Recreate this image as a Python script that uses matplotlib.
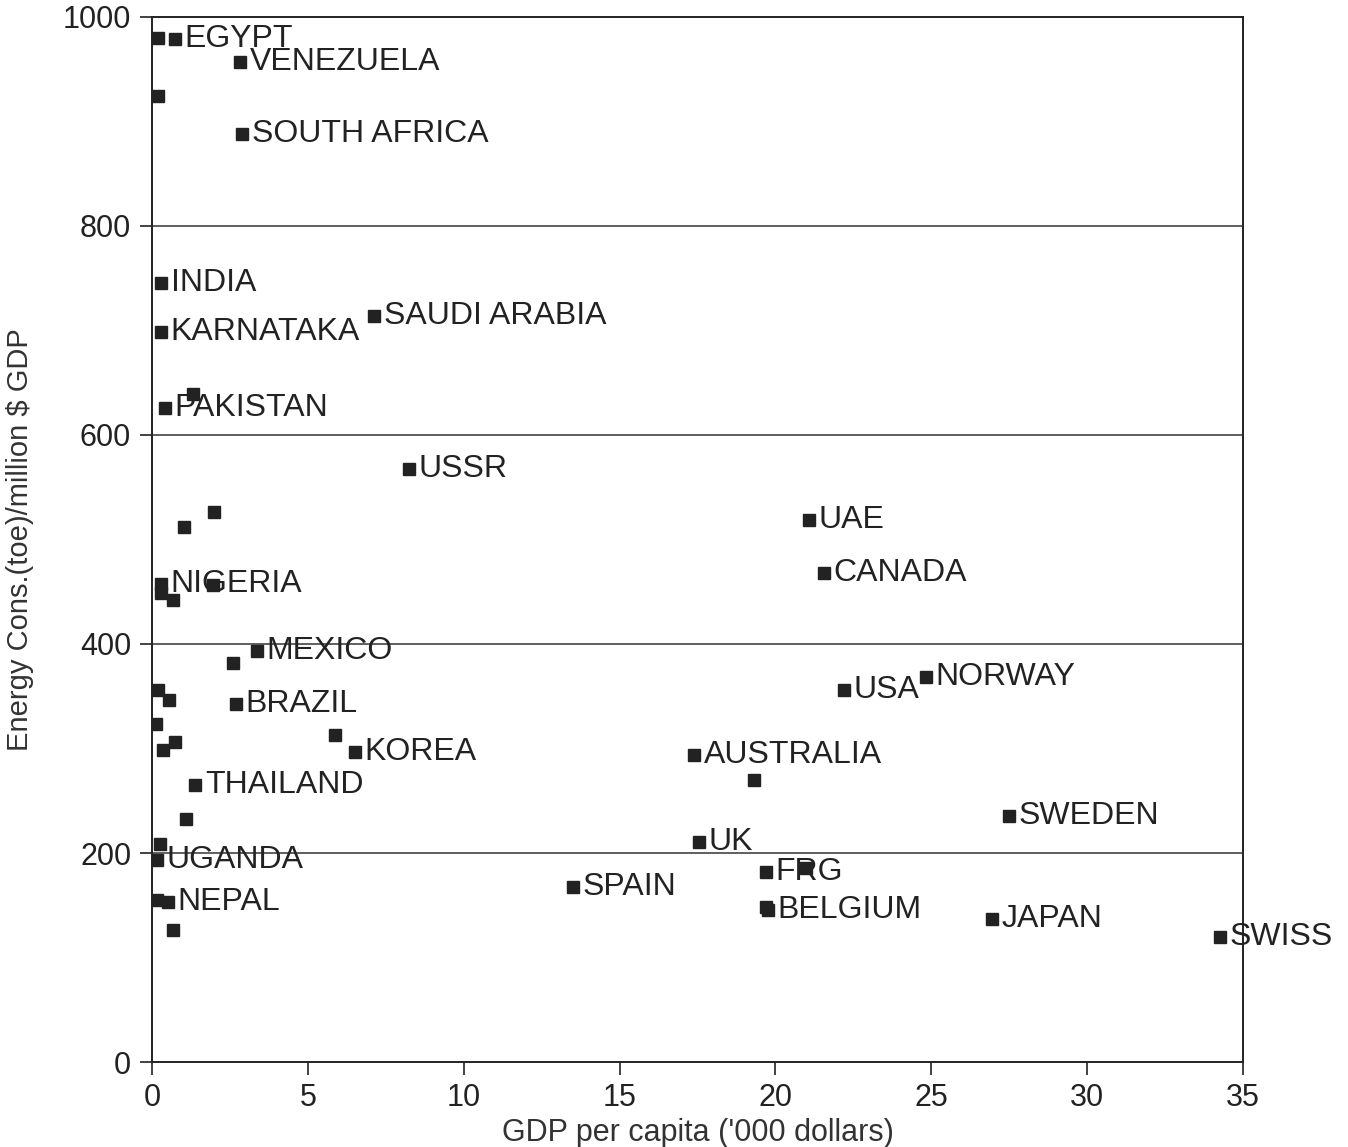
import matplotlib.pyplot as plt

# pontos rotulados (pais, PIB per capita, consumo de energia)
paises = ['EGYPT', 'VENEZUELA', 'SOUTH AFRICA', 'INDIA', 'KARNATAKA', 'SAUDI ARABIA',
          'PAKISTAN', 'USSR', 'UAE', 'CANADA', 'NIGERIA', 'MEXICO', 'BRAZIL', 'KOREA',
          'THAILAND', 'AUSTRALIA', 'SWEDEN', 'UK', 'USA', 'NORWAY', 'UGANDA', 'NEPAL',
          'SPAIN', 'FRG', 'BELGIUM', 'JAPAN', 'SWISS']
gdp_rot = [0.74, 2.82, 2.89, 0.29, 0.29, 7.12, 0.42, 8.24, 21.08, 21.56, 0.29, 3.37,
           2.69, 6.51, 1.38, 17.39, 27.49, 17.55, 22.2, 24.83, 0.16, 0.51, 13.5, 19.7,
           19.76, 26.95, 34.26]
energia_rot = [979, 957, 888, 745, 699, 714, 626, 567, 519, 468, 457, 393, 343, 297,
               265, 294, 235, 211, 356, 368, 193, 153, 167, 182, 145, 137, 120]

# pontos sem rotulo
gdp_sem = [0.19, 0.19, 1.32, 1.03, 1.99, 0.29, 0.67, 1.96, 2.6, 0.19, 0.55, 0.13,
           0.74, 0.35, 5.87, 1.09, 19.31, 0.26, 0.16, 0.67, 20.98, 19.7]
energia_sem = [980, 924, 639, 512, 526, 449, 442, 456, 382, 356, 346, 323, 306, 299,
               313, 233, 270, 209, 155, 126, 186, 148]

xticks = [0, 5, 10, 15, 20, 25, 30, 35]
yticks = [0, 200, 400, 600, 800, 1000]

cor = '#222222'
fig = plt.figure(figsize=(13.48, 11.47), dpi=100)
ax = fig.add_axes([0.1128, 0.0741, 0.8093, 0.9111])

for y in [200, 400, 600, 800]:
    ax.axhline(y, color='#444444', lw=1.2, zorder=1)

ax.plot(gdp_sem, energia_sem, 's', color=cor, ms=8, zorder=3)
ax.plot(gdp_rot, energia_rot, 's', color=cor, ms=8, zorder=3)

for nome, x, y in zip(paises, gdp_rot, energia_rot):
    ax.annotate(nome, (x, y), xytext=(7, 0), textcoords='offset points',
                va='center', ha='left', fontsize=23, color=cor,
                family='Liberation Sans', zorder=4)

ax.set_xlim(0, 35)
ax.set_ylim(0, 1000)
ax.set_xticks(xticks)
ax.set_yticks(yticks)
ax.tick_params(direction='out', length=9, width=1.2, colors=cor, pad=6)
for s in ax.spines.values():
    s.set_linewidth(1.4)
    s.set_color(cor)
for lab in ax.get_xticklabels() + ax.get_yticklabels():
    lab.set_family('Liberation Sans')
    lab.set_fontsize(22)

ax.set_xlabel("GDP per capita ('000 dollars)", fontsize=22, family='Liberation Sans',
              color='#333333', labelpad=4)
ax.set_ylabel('Energy Cons.(toe)/million $ GDP', fontsize=21, family='Liberation Sans',
              color='#333333')
ax.yaxis.set_label_coords(-0.108, 0.5)

fig.savefig('out.png', dpi=100)
